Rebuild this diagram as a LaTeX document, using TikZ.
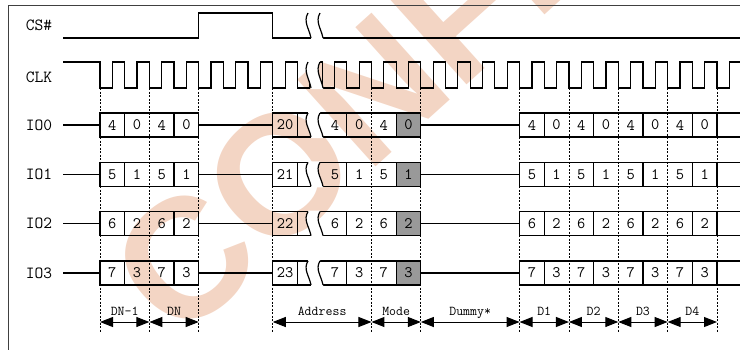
\documentclass[tikz,border=0pt]{standalone}
\usepackage{fontspec}
\newfontfamily\markfont{Liberation Sans}
\usetikzlibrary{arrows.meta}
\definecolor{modegray}{RGB}{153,153,153}
\definecolor{markpeach}{RGB}{243,213,196}
\tikzstyle{signal} = [line width=1.2pt, black]
\tikzstyle{framebox} = [line width=0.8pt, black!75]
\tikzstyle{gridline} = [line width=0.8pt, dash pattern=on 2pt off 1.5pt]
\tikzstyle{dimarrow} = [line width=1pt, {Triangle[length=13pt,width=10pt]}-{Triangle[length=13pt,width=10pt]}]
\tikzstyle{siglabel} = [font=\ttfamily\fontsize{17}{17}\selectfont, inner sep=0pt]
\tikzstyle{bitlabel} = [font=\ttfamily\fontsize{16}{16}\selectfont, inner sep=0pt]
\tikzstyle{phaselabel} = [font=\ttfamily\fontsize{13.5}{13.5}\selectfont, inner sep=0pt, anchor=base]

% break symbol (two S curves) between y=#1 and y=#2
\newcommand{\cutmark}[2]{%
  \fill[white] (308,{(#1)-1}) -- (308,{#1}) .. controls (303,{(#1)+0.35*((#2)-(#1))}) and (309,{(#1)+0.6*((#2)-(#1))}) .. (311,{#2})
    -- (311,{(#2)+1}) -- (323,{(#2)+1}) -- (323,{#2})
    .. controls (321,{(#1)+0.6*((#2)-(#1))}) and (315,{(#1)+0.35*((#2)-(#1))}) .. (320,{#1}) -- (320,{(#1)-1}) -- cycle;
  \draw[signal] (308,{#1}) .. controls (303,{(#1)+0.35*((#2)-(#1))}) and (309,{(#1)+0.6*((#2)-(#1))}) .. (311,{#2});
  \draw[signal] (320,{#1}) .. controls (315,{(#1)+0.35*((#2)-(#1))}) and (321,{(#1)+0.6*((#2)-(#1))}) .. (323,{#2});
}

\begin{document}
\begin{tikzpicture}[x=1pt, y=-1pt]
\def\p{24.68}
\def\hp{12.34}
\useasboundingbox (0,0) rectangle (740,349);

% watermark
\node[font=\markfont\bfseries\fontsize{170}{170}\selectfont, text=markpeach, rotate=42, anchor=base west, inner sep=0pt] (mark) at (178,345) {CONFIDENTIAL};

% frame
\draw[framebox] (8,360) -- (8,5) -- (750,5);

% signal names
\node[siglabel] (cs) at (39,25) {CS\#};
\node[siglabel] (clk) at (39,77) {CLK};

% CS#
\draw[signal] (63,38) -- ({100+4*\p},38) -- ({100+4*\p},13) -- ({100+7*\p},13) -- ({100+7*\p},38) -- (750,38);
\cutmark{13}{38}

% CLK
\draw[signal] (63,62) -- (100,62) \foreach \k in {0,...,25}{ -- ++(0,26) -- ++(\hp,0) -- ++(0,-26) -- ++(\hp,0)};
\cutmark{62}{88}

% IO lines
\foreach \i in {0,...,3}{
  \pgfmathsetmacro{\yy}{125+49.3*\i}
  \pgfmathtruncatemacro{\hi}{4+\i}
  \pgfmathtruncatemacro{\adr}{20+\i}
  \node[siglabel] (io\i) at (39,\yy) {IO\i};
  \draw[signal] (63,\yy) -- (100,\yy);
  % DN-1, DN
  \draw[signal] (100,{\yy-12}) rectangle ({100+4*\p},{\yy+12});
  \draw[signal] ({100+\p},{\yy-12}) -- ({100+\p},{\yy+12}) ({100+3*\p},{\yy-12}) -- ({100+3*\p},{\yy+12});
  \foreach \k/\v in {0/\hi,1/\i,2/\hi,3/\i}
    \node[bitlabel] (dn\i-\k) at ({100+(\k+0.5)*\p},\yy) {\v};
  \draw[signal] ({100+4*\p},\yy) -- ({100+7*\p},\yy);
  % address, mode
  \fill[modegray] ({100+12*\p},{\yy-12}) rectangle ({100+13*\p},{\yy+12});
  \draw[signal] ({100+7*\p},{\yy-12}) rectangle ({100+13*\p},{\yy+12});
  \draw[signal] ({100+8*\p},{\yy-12}) -- ({100+8*\p},{\yy+12})
    ({100+10*\p},{\yy-12}) -- ({100+10*\p},{\yy+12})
    ({100+12*\p},{\yy-12}) -- ({100+12*\p},{\yy+12});
  \cutmark{\yy-12}{\yy+12}
  \node[bitlabel] (ad\i) at ({100+7.5*\p},\yy) {\adr};
  \node[bitlabel] (ad\i-9) at (335,\yy) {\hi};
  \foreach \k/\v in {10/\i,11/\hi,12/\i}
    \node[bitlabel] (ad\i-\k) at ({100+(\k+0.5)*\p},\yy) {\v};
  \draw[signal] ({100+13*\p},\yy) -- ({100+17*\p},\yy);
  % data
  \draw[signal] (750,{\yy-12}) -- ({100+17*\p},{\yy-12}) -- ({100+17*\p},{\yy+12}) -- (750,{\yy+12});
  \foreach \k in {18,20,22,24,25}
    \draw[signal] ({100+\k*\p},{\yy-12}) -- ({100+\k*\p},{\yy+12});
  \foreach \k/\v in {17/\hi,18/\i,19/\hi,20/\i,21/\hi,22/\i,23/\hi,24/\i}
    \node[bitlabel] (db\i-\k) at ({100+(\k+0.5)*\p},\yy) {\v};
}

% phase marks
\foreach \k in {0,2,4,7,11,13,17,19,21,23,25}{
  \draw[gridline] ({100+\k*\p},88) -- ({100+\k*\p},333);
  \coordinate (t\k) at ({100+\k*\p},322);
}

\draw[dimarrow] (t0) -- (t2) node[phaselabel, midway, yshift=7pt] {DN-1};
\draw[dimarrow] (t2) -- (t4) node[phaselabel, midway, yshift=7pt] {DN};
\draw[dimarrow] (t7) -- (t11) node[phaselabel, midway, yshift=7pt] {Address};
\draw[dimarrow] (t11) -- (t13) node[phaselabel, midway, yshift=7pt] {Mode};
\draw[dimarrow] (t13) -- (t17) node[phaselabel, midway, yshift=7pt] {Dummy*};
\draw[dimarrow] (t17) -- (t19) node[phaselabel, midway, yshift=7pt] {D1};
\draw[dimarrow] (t19) -- (t21) node[phaselabel, midway, yshift=7pt] {D2};
\draw[dimarrow] (t21) -- (t23) node[phaselabel, midway, yshift=7pt] {D3};
\draw[dimarrow] (t23) -- (t25) node[phaselabel, midway, yshift=7pt] {D4};
\end{tikzpicture}
\end{document}
